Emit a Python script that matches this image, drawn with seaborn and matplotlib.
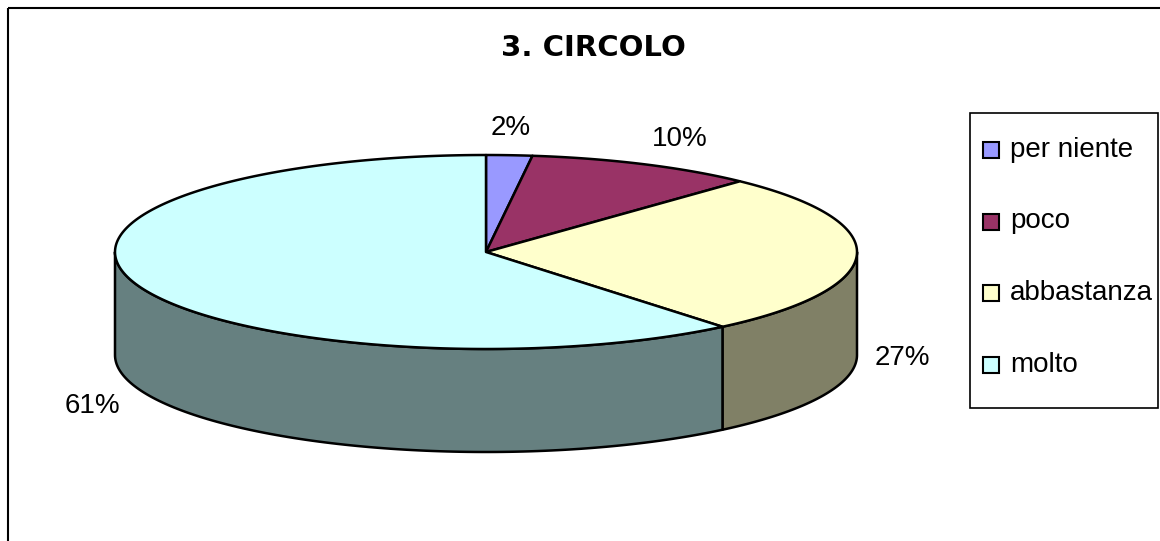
import numpy as np
import seaborn as sns
import matplotlib.pyplot as plt
from matplotlib.patches import Polygon, Rectangle
from matplotlib.colors import to_rgb

categories = ["per niente", "poco", "abbastanza", "molto"]
values = [2, 10, 27, 61]
pct_labels = ["2%", "10%", "27%", "61%"]
top_colors = ["#9999FF", "#993366", "#FFFFCC", "#CCFFFF"]
title = "3. CIRCOLO"

sns.set_theme(style="white")
plt.rcParams['font.family'] = ['Liberation Sans', 'DejaVu Sans']
plt.rcParams['text.color'] = 'black'

# ellipse geometry in pixel units
CX, CY = 486, 252
RX, RY = 371, 97
DEPTH = 103
LW = 1.8


def ell(t):
    t = np.radians(t)
    return CX + RX * np.cos(t), CY - RY * np.sin(t)


fig = plt.figure(figsize=(11.6, 5.41), dpi=100)
ax = fig.add_axes([0, 0, 1, 1])
ax.set_xlim(0, 1160)
ax.set_ylim(541, 0)
ax.axis("off")

# outer frame
ax.add_patch(Rectangle((8, 8), 1200, 600, fill=False, ec="black", lw=1.5))

total = sum(values)
cum = np.concatenate([[0], np.cumsum(values)])
starts = 90 - 360 * cum[:-1] / total
ends = 90 - 360 * cum[1:] / total

# side walls (front half only)
for t0, t1, col in zip(starts, ends, top_colors):
    a, b = max(t1, -180), min(t0, 0)
    if a >= b:
        continue
    ts = np.linspace(a, b, 120)
    x, y = ell(ts)
    pts = np.column_stack([np.r_[x, x[::-1]], np.r_[y, (y + DEPTH)[::-1]]])
    side = tuple(c * 0.5 for c in to_rgb(col))
    ax.add_patch(Polygon(pts, closed=True, fc=side, ec="black", lw=LW, joinstyle="round"))

# top face
for t0, t1, col in zip(starts, ends, top_colors):
    ts = np.linspace(t0, t1, 200)
    x, y = ell(ts)
    pts = np.column_stack([np.r_[CX, x], np.r_[CY, y]])
    ax.add_patch(Polygon(pts, closed=True, fc=col, ec="black", lw=LW, joinstyle="round"))

# percentage labels
for t0, t1, lab in zip(starts, ends, pct_labels):
    tm = (t0 + t1) / 2
    c, s = np.cos(np.radians(tm)), np.sin(np.radians(tm))
    x, y = ell(tm)
    if s < 0:
        y += DEPTH
    x += 18 * c
    y -= 14 * s
    ha = "left" if c > 0.3 else ("right" if c < -0.3 else "center")
    va = "bottom" if s > 0.3 else ("top" if s < -0.3 else "center")
    ax.text(x, y, lab, fontsize=20, ha=ha, va=va, color="black")

ax.text(593, 56, title, fontsize=21, fontweight="bold", family="DejaVu Sans",
        ha="center", va="baseline", color="black")

# legend
ax.add_patch(Rectangle((970, 113), 188, 295, fill=False, ec="black", lw=1.2))
for i, (cat, col) in enumerate(zip(categories, top_colors)):
    yc = 150 + i * 71.5
    ax.add_patch(Rectangle((983, yc - 8), 16, 16, fc=col, ec="black", lw=1.5))
    ax.text(1010, yc, cat, fontsize=20, ha="left", va="center", color="black")

fig.savefig("out.png", dpi=100)
